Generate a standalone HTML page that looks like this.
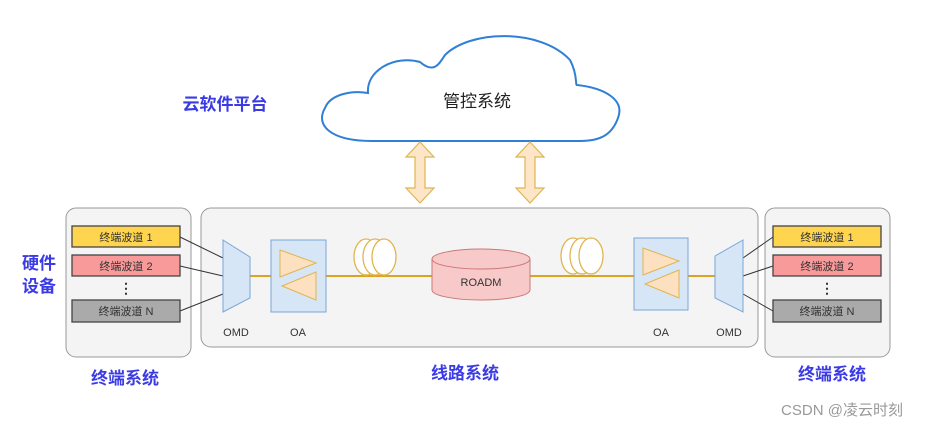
<!DOCTYPE html>
<html><head><meta charset="utf-8"><style>
body{margin:0;background:#fff;width:933px;height:427px;overflow:hidden;font-family:"Liberation Sans","Noto Sans CJK SC",sans-serif}
</style></head><body>
<svg width="933" height="427" viewBox="0 0 933 427" xmlns="http://www.w3.org/2000/svg" font-family="Liberation Sans, Noto Sans CJK SC, sans-serif">
<!-- cloud -->
<path d="M372,141 C330,141 315,125 325,108 C330,95 350,90 368,93 C366,70 395,55 420,62 C435,75 440,62 445,55 C470,30 540,28 570,60 C578,75 575,85 577,85 C605,88 625,100 618,118 C612,135 600,141 580,141 Z" fill="#fff" stroke="#2f7fd6" stroke-width="2"/>
<text x="477" y="107" font-size="17" text-anchor="middle" fill="#222">管控系统</text>
<!-- double arrows -->
<g fill="#fde5c8" stroke="#e0b54f" stroke-width="1.2">
<path d="M420,142 L434,157 L425,157 L425,188 L434,188 L420,203 L406,188 L415,188 L415,157 L406,157 Z"/>
<path d="M530,142 L544,157 L535,157 L535,188 L544,188 L530,203 L516,188 L525,188 L525,157 L516,157 Z"/>
</g>
<text x="225" y="110" font-size="17" font-weight="bold" text-anchor="middle" fill="#3b3be6">云软件平台</text>
<text x="39" y="269" font-size="17" font-weight="bold" text-anchor="middle" fill="#3b3be6">硬件</text>
<text x="39" y="292" font-size="17" font-weight="bold" text-anchor="middle" fill="#3b3be6">设备</text>
<!-- boxes -->
<rect x="66" y="208" width="125" height="149" rx="10" fill="#f4f4f4" stroke="#999"/>
<rect x="201" y="208" width="557" height="139" rx="10" fill="#f4f4f4" stroke="#999"/>
<rect x="765" y="208" width="125" height="149" rx="10" fill="#f4f4f4" stroke="#999"/>
<!-- connectors -->
<g stroke="#333" stroke-width="1">
<line x1="180" y1="237" x2="223" y2="258"/><line x1="180" y1="266" x2="223" y2="276"/><line x1="180" y1="311" x2="223" y2="294"/>
<line x1="773" y1="237" x2="743" y2="258"/><line x1="773" y1="266" x2="743" y2="276"/><line x1="773" y1="311" x2="743" y2="294"/>
</g>
<line x1="250" y1="276" x2="715" y2="276" stroke="#d9a520" stroke-width="2"/>
<!-- channels -->
<g font-size="11" text-anchor="middle" fill="#333" stroke-width="1.3">
<rect x="72" y="226" width="108" height="21" fill="#ffd54f" stroke="#444"/><text x="126" y="241">终端波道 1</text>
<rect x="72" y="255" width="108" height="21" fill="#f8999a" stroke="#444"/><text x="126" y="270">终端波道 2</text>
<rect x="72" y="300" width="108" height="22" fill="#aaa" stroke="#444"/><text x="126" y="315">终端波道 N</text>
<text x="126" y="293" font-size="14" font-weight="bold">⋮</text>
<rect x="773" y="226" width="108" height="21" fill="#ffd54f" stroke="#444"/><text x="827" y="241">终端波道 1</text>
<rect x="773" y="255" width="108" height="21" fill="#f8999a" stroke="#444"/><text x="827" y="270">终端波道 2</text>
<rect x="773" y="300" width="108" height="22" fill="#aaa" stroke="#444"/><text x="827" y="315">终端波道 N</text>
<text x="827" y="293" font-size="14" font-weight="bold">⋮</text>
</g>
<!-- OMD -->
<path d="M223,240 L250,257 L250,298 L223,312 Z" fill="#d6e6f7" stroke="#7aa6d6"/>
<path d="M743,240 L715,256 L715,298 L743,312 Z" fill="#d6e6f7" stroke="#7aa6d6"/>
<!-- OA -->
<rect x="271" y="240" width="55" height="72" fill="#d6e6f7" stroke="#7aa6d6"/>
<rect x="634" y="238" width="54" height="72" fill="#d6e6f7" stroke="#7aa6d6"/>
<g fill="#fde0c0" stroke="#e0b54f">
<path d="M280,250 L316,263 L280,277 Z"/><path d="M316,272 L282,286 L316,300 Z"/>
<path d="M643,248 L679,261 L643,275 Z"/><path d="M679,270 L645,284 L679,298 Z"/>
</g>
<g font-size="11" fill="#333" text-anchor="middle">
<text x="236" y="336">OMD</text><text x="298" y="336">OA</text>
<text x="661" y="336">OA</text><text x="729" y="336">OMD</text>
</g>
<!-- coils -->
<g fill="#fff" stroke="#e0b54f" stroke-width="1.3">
<ellipse cx="366" cy="257" rx="12" ry="18"/><ellipse cx="375" cy="257" rx="12" ry="18"/><ellipse cx="384" cy="257" rx="12" ry="18"/>
<ellipse cx="573" cy="256" rx="12" ry="18"/><ellipse cx="582" cy="256" rx="12" ry="18"/><ellipse cx="591" cy="256" rx="12" ry="18"/>
</g>
<!-- ROADM -->
<path d="M432,259 L432,290 A49,10 0 0 0 530,290 L530,259" fill="#f8c9c9" stroke="#c77"/>
<ellipse cx="481" cy="259" rx="49" ry="10" fill="#f8c9c9" stroke="#c77"/>
<text x="481" y="286" font-size="11" text-anchor="middle" fill="#333">ROADM</text>
<!-- titles -->
<g font-size="17" font-weight="bold" fill="#3b3be6" text-anchor="middle">
<text x="125" y="384">终端系统</text><text x="465" y="379">线路系统</text><text x="832" y="380">终端系统</text>
</g>
<text x="842" y="415" font-size="15" fill="#999" text-anchor="middle">CSDN @凌云时刻</text>
</svg>
</body></html>
